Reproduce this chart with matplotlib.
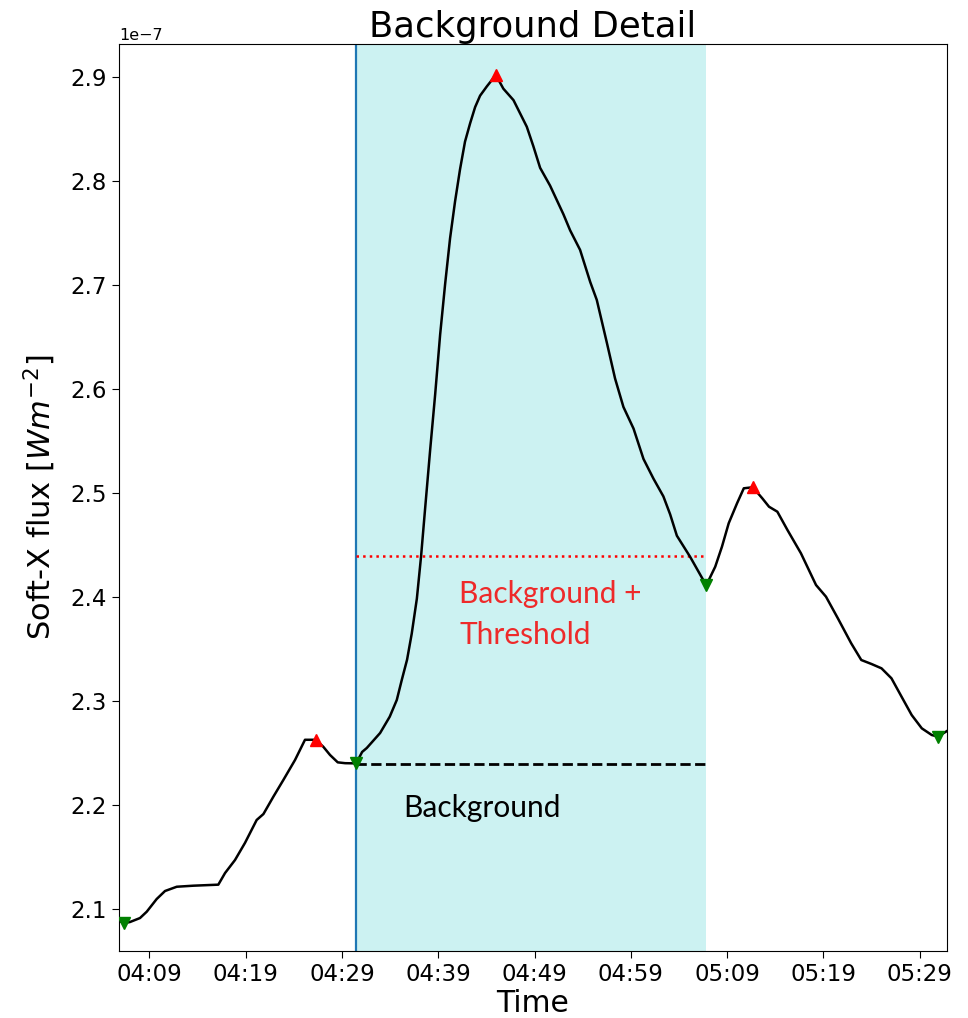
import matplotlib
matplotlib.use("Agg")
import matplotlib.pyplot as plt
import matplotlib.dates as mdates
import pandas as pd

DAY = "2020-01-01 "

# ---- data (flux in units of 1e-7 W m^-2) ----
times = ["04:05:54", "04:06:22", "04:07:00", "04:08:02", "04:08:44", "04:09:46",
         "04:10:38", "04:11:51", "04:13:34", "04:16:10", "04:16:52", "04:17:54",
         "04:18:56", "04:20:09", "04:20:51", "04:21:53", "04:22:55", "04:24:08",
         "04:25:10", "04:26:17", "04:27:04", "04:27:46", "04:28:34", "04:29:20",
         "04:30:29", "04:31:06", "04:31:35", "04:32:58", "04:33:58", "04:34:42",
         "04:35:13", "04:35:46", "04:36:15", "04:36:47", "04:37:13", "04:37:38",
         "04:38:10", "04:38:41", "04:39:12", "04:39:43", "04:40:14", "04:40:45",
         "04:41:16", "04:41:47", "04:42:19", "04:42:50", "04:43:21", "04:44:03",
         "04:44:59", "04:45:46", "04:46:49", "04:48:12", "04:48:53", "04:49:35",
         "04:50:37", "04:52:00", "04:52:42", "04:53:44", "04:54:47", "04:55:28",
         "04:56:31", "04:57:22", "04:58:14", "04:59:17", "05:00:19", "05:01:21",
         "05:02:23", "05:03:05", "05:03:47", "05:05:10", "05:06:50", "05:07:46",
         "05:08:28", "05:09:10", "05:10:02", "05:10:44", "05:11:40", "05:12:39",
         "05:13:21", "05:14:13", "05:15:16", "05:16:40", "05:18:14", "05:19:16",
         "05:20:30", "05:21:53", "05:22:56", "05:23:59", "05:25:02", "05:26:04",
         "05:27:07", "05:28:10", "05:29:13", "05:30:15", "05:30:53", "05:32:00"]
flux = [2.0888, 2.0867, 2.0878, 2.0916, 2.0977, 2.1099,
        2.1176, 2.1217, 2.1227, 2.1237, 2.1349, 2.1474,
        2.1638, 2.1859, 2.1916, 2.2083, 2.2243, 2.2436,
        2.2630, 2.2630, 2.2563, 2.2484, 2.2413, 2.2405,
        2.2403, 2.2513, 2.2551, 2.2695, 2.2852, 2.3013,
        2.3205, 2.3400, 2.3650, 2.3987, 2.4390, 2.4845,
        2.5420, 2.5950, 2.6525, 2.7010, 2.7453, 2.7806,
        2.8115, 2.8381, 2.8558, 2.8713, 2.8823, 2.8912,
        2.9022, 2.8890, 2.8780, 2.8524, 2.8336, 2.8129,
        2.7958, 2.7683, 2.7528, 2.7340, 2.7032, 2.6859,
        2.6446, 2.6103, 2.5830, 2.5622, 2.5330, 2.5141,
        2.4970, 2.4798, 2.4592, 2.4388, 2.4115, 2.4294,
        2.4487, 2.4712, 2.4904, 2.5048, 2.5058, 2.4952,
        2.4871, 2.4823, 2.4647, 2.4423, 2.4118, 2.4006,
        2.3798, 2.3558, 2.3397, 2.3359, 2.3317, 2.3221,
        2.3044, 2.2868, 2.2740, 2.2676, 2.2660, 2.2724]

peak_times = ["04:26:17", "04:44:59", "05:11:40"]
peak_flux = [2.2630, 2.9022, 2.5058]
trough_times = ["04:06:22", "04:30:29", "05:06:50", "05:30:53"]
trough_flux = [2.0867, 2.2403, 2.4115, 2.2660]

event_start = "04:30:29"
event_end = "05:06:50"
background = 2.240
threshold_level = 2.440

xlim = ["04:05:51", "05:31:50"]
tick_times = ["04:09", "04:19", "04:29", "04:39", "04:49", "04:59",
              "05:09", "05:19", "05:29"]
ylim = [2.0599, 2.932]
SCALE = 1e-7


def T(lst):
    return pd.to_datetime([DAY + s for s in lst])


t = T(times)
f = [v * SCALE for v in flux]
ts, te = T([event_start, event_end])

fig = plt.figure(figsize=(9.68, 10.18), dpi=100)
ax = fig.add_axes([0.1229, 0.0658, 0.8554, 0.891])

ax.axvspan(ts, te, color="c", alpha=0.2, lw=0)
ax.axvline(ts, color="#1f77b4", lw=1.6)
ax.plot(t, f, color="black", lw=1.8, zorder=3)
ax.plot([ts, te], [background * SCALE] * 2, color="black", ls="--", lw=2)
ax.plot([ts, te], [threshold_level * SCALE] * 2, color="red", ls=":", lw=1.8)
ax.plot(T(peak_times), [v * SCALE for v in peak_flux], "^", color="red",
        ms=8, zorder=4)
ax.plot(T(trough_times), [v * SCALE for v in trough_flux], "v", color="green",
        ms=8, zorder=4)

ax.text(T(["04:41:10"])[0], 2.3551 * SCALE, "Background +\nThreshold",
        color="#ee2a2a", fontsize=21.5, family="Lato", va="baseline",
        ha="left", linespacing=1.55)
ax.text(T(["04:35:23"])[0], 2.189 * SCALE, "Background", color="black",
        fontsize=21.5, family="Lato", va="baseline", ha="left")

ax.set_xlim(T(xlim))
ax.set_ylim(ylim[0] * SCALE, ylim[1] * SCALE)
ax.set_xticks(T(tick_times))
ax.xaxis.set_major_formatter(mdates.DateFormatter("%H:%M"))
ax.set_yticks([v * SCALE for v in [2.1, 2.2, 2.3, 2.4, 2.5, 2.6, 2.7, 2.8, 2.9]])
ax.tick_params(labelsize=16.5, length=5)
ax.yaxis.get_offset_text().set_fontsize(11.5)

ax.set_title("Background Detail", fontsize=25.5, pad=4)
ax.set_xlabel("Time", fontsize=21.5, labelpad=2)
ax.set_ylabel("Soft-X flux [$Wm^{-2}$]", fontsize=22, labelpad=9)

fig.savefig("out.png", dpi=100)
